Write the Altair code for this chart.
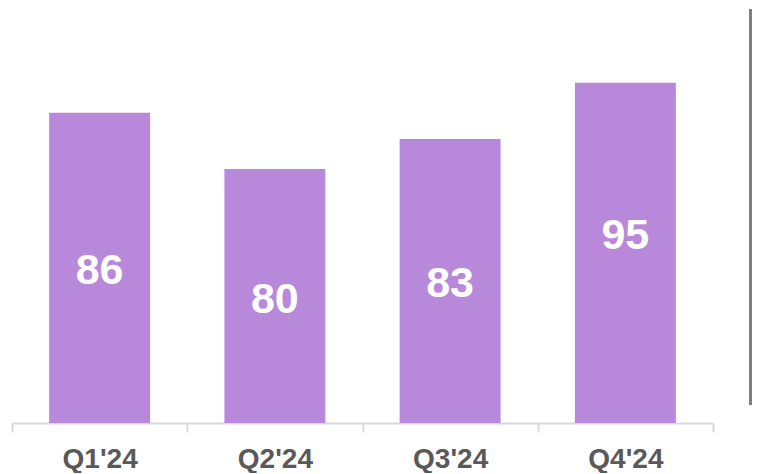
import altair as alt
import pandas as pd

quarters = ["Q1'24", "Q2'24", "Q3'24", "Q4'24"]
values = [86, 80, 83, 95]                  # printed values
bar_lengths = [91.2, 74.7, 83.5, 100.0]    # bar heights as drawn (relative)
label_at = [44.7, 36.3, 41.0, 54.9]        # where each number sits on the bar scale

df = pd.DataFrame({
    "quarter": quarters,
    "value": values,
    "bar": bar_lengths,
    "label_at": label_at,
})

FONT = "Liberation Sans"
BAR_COLOR = "#B889DB"

x = alt.X(
    "quarter:N",
    sort=quarters,
    title=None,
    scale=alt.Scale(paddingInner=0, paddingOuter=0),
    axis=alt.Axis(
        labelAngle=0,
        labelFont=FONT,
        labelFontSize=28,
        labelFontWeight="bold",
        labelColor="#595959",
        labelPadding=13,
        domainColor="#D9D9D9",
        domainWidth=2,
        tickColor="#D9D9D9",
        tickWidth=2,
        tickSize=9,
        tickBand="extent",
        grid=False,
    ),
)
yscale = alt.Scale(domain=[0, 122], nice=False)

bars = alt.Chart(df).mark_bar(color=BAR_COLOR, width=alt.RelativeBandSize(0.576)).encode(
    x=x,
    y=alt.Y("bar:Q", scale=yscale, axis=None),
)

labels = alt.Chart(df).mark_text(
    font=FONT, fontSize=43, fontWeight="bold", color="white",
    align="center", baseline="middle",
).encode(
    x=x,
    y=alt.Y("label_at:Q", scale=yscale, axis=None),
    text=alt.Text("value:Q"),
)

edge = alt.Chart(df).mark_rule(color="#7F7F7F", strokeWidth=3, clip=False).encode(
    x=alt.value(738.5),
    y=alt.value(1.5),
    y2=alt.value(397),
)

chart = alt.layer(bars, labels, edge).properties(
    width=701,
    height=415,
    background="white",
    padding={"left": 3, "top": 0, "right": 0, "bottom": 0},
).configure_view(strokeWidth=0, stroke=None)

chart.save("out.html", embed_options={"renderer": "svg", "actions": False})
